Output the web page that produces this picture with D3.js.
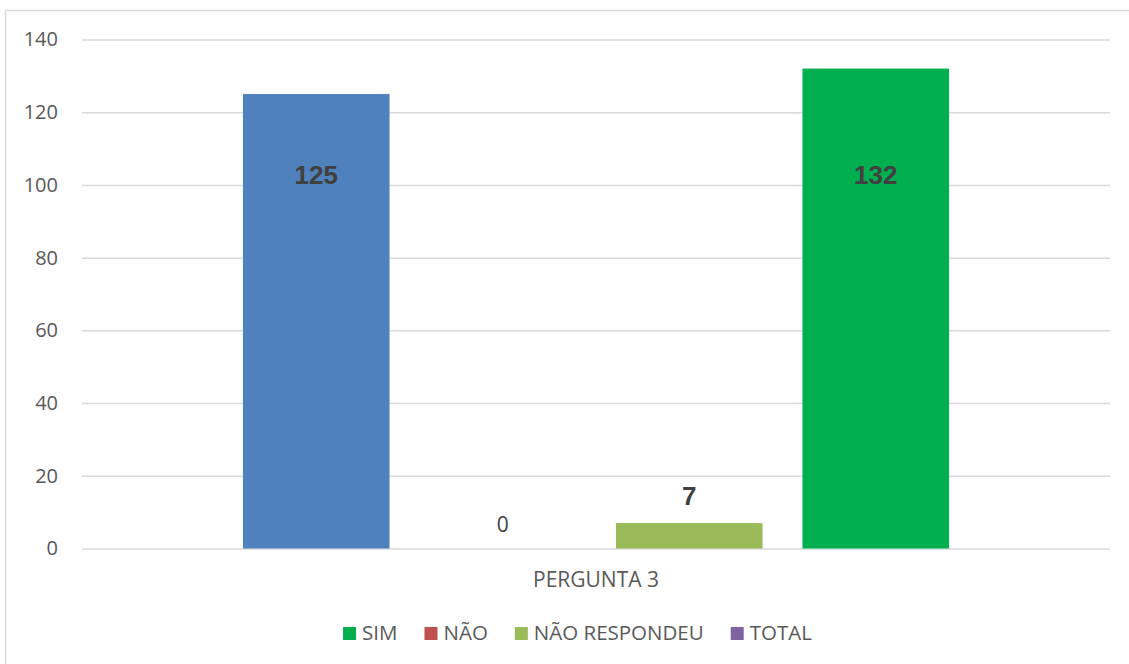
<!DOCTYPE html>
<html>
<head>
<meta charset="utf-8">
<script src="https://cdn.jsdelivr.net/npm/d3@7/dist/d3.min.js"></script>
<style>
  html, body { margin: 0; padding: 0; background: #fff; }
  svg { display: block; }
  text { font-family: "Open Sans", sans-serif; }
</style>
</head>
<body>
<svg id="chart" width="1129" height="664"></svg>
<script>
const categories = ["PERGUNTA 3"];
const series = ["SIM", "NÃO", "NÃO RESPONDEU", "TOTAL"];
const values = [125, 0, 7, 132];
const barColors = ["#4F81BD", "#C0504D", "#9BBB59", "#00B050"];
const legendColors = ["#00B050", "#C0504D", "#9BBB59", "#8064A2"];
const yTicks = [0, 20, 40, 60, 80, 100, 120, 140];

const svg = d3.select("#chart");
const W = 1129, H = 664;
const plot = { left: 82, right: 1110, top: 39.5, bottom: 548.5 };

// chart border
svg.append("rect")
  .attr("x", 5.5).attr("y", 10.5)
  .attr("width", W + 10).attr("height", H + 10)
  .attr("fill", "#fff").attr("stroke", "#d9d9d9").attr("stroke-width", 1.5);

const y = d3.scaleLinear().domain([0, 140]).range([plot.bottom, plot.top]);
const x0 = d3.scaleBand().domain(categories).range([plot.left, plot.right]);
const x1 = d3.scaleBand().domain(series)
  .range([x0(categories[0]) + 141, x0(categories[0]) + x0.bandwidth() - 141])
  .paddingInner(0.214).paddingOuter(0.107);

// gridlines + y labels via axis
const yAxis = d3.axisLeft(y).tickValues(yTicks).tickSize(-(plot.right - plot.left)).tickPadding(24);
const gy = svg.append("g").attr("transform", `translate(${plot.left},0)`).call(yAxis)
  .attr("font-size", 20).attr("font-family", "'Open Sans', sans-serif");
gy.select(".domain").remove();
gy.selectAll(".tick line").attr("stroke", "#d9d9d9").attr("stroke-width", 1.5);
gy.selectAll(".tick text").attr("fill", "#595959").attr("font-size", 20)
  .style("font-size", "20px").style("font-family", "'Open Sans', sans-serif");

// bars
const data = series.map((s, i) => ({ s, v: values[i], c: barColors[i] }));
svg.append("g").selectAll("rect").data(data).join("rect")
  .attr("x", d => x1(d.s))
  .attr("y", d => y(d.v))
  .attr("width", x1.bandwidth())
  .attr("height", d => y(0) - y(d.v))
  .attr("fill", d => d.c);

// value labels
const labels = svg.append("g");
data.forEach(d => {
  const cx = x1(d.s) + x1.bandwidth() / 2;
  if (d.v === 0) {
    labels.append("text").attr("x", cx).attr("y", y(d.v) - 17)
      .attr("text-anchor", "middle").attr("fill", "#404040")
      .style("font-size", "21px").text(d.v);
  } else if (d.v < 20) {
    labels.append("text").attr("x", cx).attr("y", y(d.v) - 18)
      .attr("text-anchor", "middle").attr("fill", "#404040")
      .style("font-family", "'Liberation Sans', Arial, sans-serif")
      .style("font-weight", "bold").style("font-size", "26px").text(d.v);
  } else {
    labels.append("text").attr("x", cx).attr("y", 184)
      .attr("text-anchor", "middle").attr("fill", "#404040")
      .style("font-family", "'Liberation Sans', Arial, sans-serif")
      .style("font-weight", "bold").style("font-size", "26px").text(d.v);
  }
});

// category label
svg.append("text")
  .attr("x", x0(categories[0]) + x0.bandwidth() / 2).attr("y", 587)
  .attr("text-anchor", "middle").attr("fill", "#595959")
  .style("font-size", "21px").text(categories[0]);

// legend
const legend = svg.append("g");
const items = [];
series.forEach((s, i) => {
  const g = legend.append("g");
  g.append("rect").attr("x", 0).attr("y", -13).attr("width", 13).attr("height", 13).attr("fill", legendColors[i]);
  const t = g.append("text").attr("x", 19).attr("y", 0).attr("fill", "#595959")
    .style("font-size", "20.5px").text(s);
  const w = 19 + t.node().getComputedTextLength();
  items.push({ g, w });
});
const gap = 27;
const total = items.reduce((a, b) => a + b.w, 0) + gap * (items.length - 1);
let start = 577.5 - total / 2;
items.forEach(it => {
  it.g.attr("transform", `translate(${start},640)`);
  start += it.w + gap;
});
</script>
</body>
</html>
